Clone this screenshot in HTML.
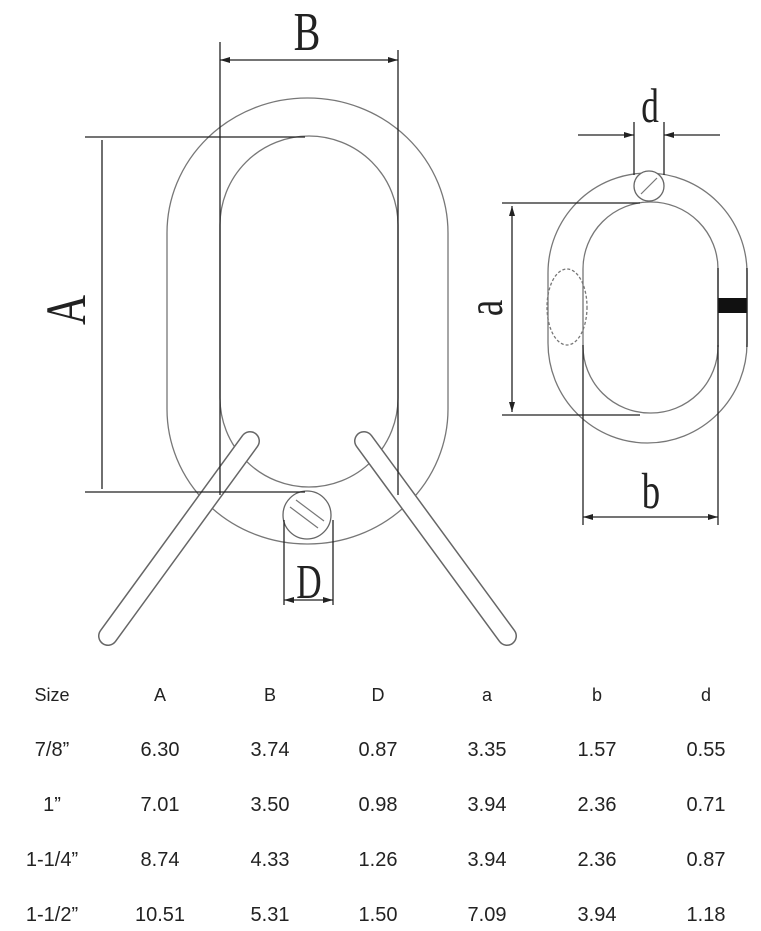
<!DOCTYPE html>
<html><head><meta charset="utf-8"><style>
html,body{margin:0;padding:0;background:#fff;}
svg{display:block;}
</style></head><body>
<svg width="761" height="931" viewBox="0 0 761 931" xmlns="http://www.w3.org/2000/svg">
<defs>
<marker id="ar" viewBox="0 0 10 6" refX="10" refY="3" markerWidth="10" markerHeight="6" orient="auto-start-reverse" markerUnits="userSpaceOnUse"><path d="M0,0 L10,3 L0,6 z" fill="#222"/></marker>
</defs>
<g fill="none" stroke="#777" stroke-width="1.3">
<rect x="167" y="98" width="281" height="446" rx="140" ry="135"/>
<rect x="220" y="136" width="178" height="351" rx="89" ry="89"/>
</g>
<g stroke-linecap="round" fill="none">
<line x1="250" y1="441" x2="108" y2="636" stroke="#666" stroke-width="20"/>
<line x1="250" y1="441" x2="108" y2="636" stroke="#fff" stroke-width="17"/>
<line x1="364" y1="441" x2="507" y2="636" stroke="#666" stroke-width="20"/>
<line x1="364" y1="441" x2="507" y2="636" stroke="#fff" stroke-width="17"/>
</g>
<circle cx="307" cy="515" r="24" fill="#fff" stroke="#666" stroke-width="1.3"/>
<g stroke="#777" stroke-width="1.2"><line x1="290" y1="507" x2="318" y2="528"/><line x1="296" y1="500" x2="324" y2="521"/></g>
<g stroke="#222" stroke-width="1.3" fill="none">
<line x1="220" y1="42" x2="220" y2="495"/>
<line x1="398" y1="50" x2="398" y2="495"/>
<line x1="220" y1="60" x2="398" y2="60" marker-start="url(#ar)" marker-end="url(#ar)"/>
<line x1="85" y1="137" x2="305" y2="137"/>
<line x1="85" y1="492" x2="305" y2="492"/>
<line x1="102" y1="140" x2="102" y2="489"/>
<line x1="284" y1="520" x2="284" y2="605"/>
<line x1="333" y1="520" x2="333" y2="605"/>
<line x1="284" y1="600" x2="333" y2="600" marker-start="url(#ar)" marker-end="url(#ar)"/>
</g>
<g font-family="Liberation Serif, serif" fill="#222">
<text transform="translate(307,50) scale(0.8,1.1)" font-size="50" text-anchor="middle">B</text>
<text transform="translate(85,310) rotate(-90) scale(0.8,1.1)" font-size="52" text-anchor="middle">A</text>
<text transform="translate(309,598) scale(0.8,1.1)" font-size="44" text-anchor="middle">D</text>
<text transform="translate(650,122) scale(0.8,1.1)" font-size="44" text-anchor="middle">d</text>
<text transform="translate(502,308) rotate(-90) scale(0.8,1.1)" font-size="46" text-anchor="middle">a</text>
<text transform="translate(651,508) scale(0.8,1.1)" font-size="46" text-anchor="middle">b</text>
</g>
<g fill="none" stroke="#777" stroke-width="1.3">
<rect x="548" y="173" width="199" height="270" rx="100" ry="100"/>
<rect x="583" y="202" width="135" height="211" rx="67" ry="67"/>
<ellipse cx="567" cy="307" rx="20" ry="38" stroke-dasharray="3 2"/>
</g>
<circle cx="649" cy="186" r="15" fill="#fff" stroke="#666" stroke-width="1.3"/>
<line x1="641" y1="194" x2="657" y2="178" stroke="#777" stroke-width="1.2"/>
<rect x="718" y="298" width="29" height="15" fill="#111"/>
<g stroke="#222" stroke-width="1.3" fill="none">
<line x1="718" y1="268" x2="718" y2="347"/>
<line x1="747" y1="268" x2="747" y2="347"/>
<line x1="634" y1="122" x2="634" y2="175"/>
<line x1="664" y1="122" x2="664" y2="175"/>
<line x1="578" y1="135" x2="634" y2="135" marker-end="url(#ar)"/>
<line x1="720" y1="135" x2="664" y2="135" marker-end="url(#ar)"/>
<line x1="502" y1="203" x2="640" y2="203"/>
<line x1="502" y1="415" x2="640" y2="415"/>
<line x1="512" y1="206" x2="512" y2="412" marker-start="url(#ar)" marker-end="url(#ar)"/>
<line x1="583" y1="345" x2="583" y2="525"/>
<line x1="718" y1="345" x2="718" y2="525"/>
<line x1="583" y1="517" x2="718" y2="517" marker-start="url(#ar)" marker-end="url(#ar)"/>
</g>
<g font-family="Liberation Sans, sans-serif" fill="#222" text-anchor="middle" font-size="20">
<g font-size="18"><text x="52" y="701">Size</text><text x="160" y="701">A</text><text x="270" y="701">B</text><text x="378" y="701">D</text><text x="487" y="701">a</text><text x="597" y="701">b</text><text x="706" y="701">d</text></g>
<text x="52" y="756">7/8”</text><text x="160" y="756">6.30</text><text x="270" y="756">3.74</text><text x="378" y="756">0.87</text><text x="487" y="756">3.35</text><text x="597" y="756">1.57</text><text x="706" y="756">0.55</text>
<text x="52" y="811">1”</text><text x="160" y="811">7.01</text><text x="270" y="811">3.50</text><text x="378" y="811">0.98</text><text x="487" y="811">3.94</text><text x="597" y="811">2.36</text><text x="706" y="811">0.71</text>
<text x="52" y="866">1-1/4”</text><text x="160" y="866">8.74</text><text x="270" y="866">4.33</text><text x="378" y="866">1.26</text><text x="487" y="866">3.94</text><text x="597" y="866">2.36</text><text x="706" y="866">0.87</text>
<text x="52" y="921">1-1/2”</text><text x="160" y="921">10.51</text><text x="270" y="921">5.31</text><text x="378" y="921">1.50</text><text x="487" y="921">7.09</text><text x="597" y="921">3.94</text><text x="706" y="921">1.18</text>
</g>
</svg>
</body></html>
